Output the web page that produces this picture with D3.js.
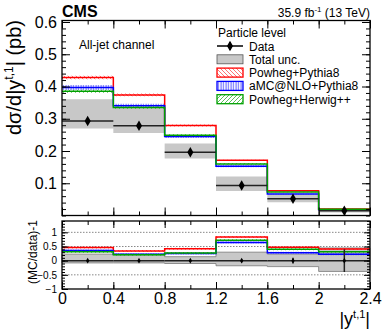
<!DOCTYPE html>
<html>
<head>
<meta charset="utf-8">
<script src="https://cdn.jsdelivr.net/npm/d3@7"></script>
<style>
  body { margin: 0; background: #fff; }
  svg { display: block; font-family: "Liberation Sans", Arial, sans-serif; }
</style>
</head>
<body>
<svg id="chart" width="390" height="331"></svg>
<script>
// ---------- data ----------
const binEdges = [0, 0.4, 0.8, 1.2, 1.6, 2.0, 2.4];
const dataVals = [0.293, 0.278, 0.196, 0.093, 0.052, 0.0145];
const statUnc = [0.03, 0.03, 0.04, 0.06, 0.1, 0.4];      // relative
const totUncUp = [0.23, 0.21, 0.14, 0.30, 0.23, 0.45];    // relative
const totUncDown = [0.08, 0.08, 0.10, 0.18, 0.21, 0.38];  // relative
const powhegPythia = [0.428, 0.374, 0.279, 0.171, 0.0765, 0.0205];
const amcPythia = [0.397, 0.340, 0.245, 0.153, 0.0665, 0.0178];
const powhegHerwig = [0.385, 0.335, 0.249, 0.160, 0.073, 0.019];
const mcUnc = [0.012, 0.02, 0.012];                      // relative band half-width
const xTicks = [0, 0.4, 0.8, 1.2, 1.6, 2, 2.4];
const yTicks = [0.1, 0.2, 0.3, 0.4, 0.5, 0.6];
const ratioTicks = [-1, -0.5, 0, 0.5, 1];
const ratioGrid = [-0.5, 0.5, 1];

const svg = d3.select('#chart');
d3.selection.prototype.attrs = function (o) {
  for (const k in o) this.attr(k, o[k]);
  return this;
};

// ---------- layout ----------
const L = 62, R = 370;
const mainTop = 22, mainBot = 215.5;
const ratTop = 221, ratBot = 289;

const x = d3.scaleLinear().domain([0, 2.4]).range([L, R]);
const y = d3.scaleLinear().domain([0, 0.6]).range([mainBot, mainTop]);
const yr = d3.scaleLinear().domain([-1, 1.4]).range([ratBot, ratTop]);

const colors = ['#ff0000', '#0000ff', '#00a000'];
const mcSets = [powhegPythia, amcPythia, powhegHerwig];
const mcNames = ['Powheg+Pythia8', 'aMC@NLO+Pythia8', 'Powheg+Herwig++'];

/****************** hatch patterns ******************/
const defs = svg.append('defs');
function hatch(id, color, path, w) {
  const p = defs.append('pattern').attrs({
    id: id, patternUnits: 'userSpaceOnUse', width: w, height: w,
  });
  p.append('path').attrs({ d: path, stroke: color, 'stroke-width': 0.8, fill: 'none' });
}
hatch('h0', '#ff5050', 'M0,0 L4,4 M-1,3 L1,5 M3,-1 L5,1', 4);
hatch('h1', '#3030ff', 'M1,0 L1,3', 2.5);
hatch('h2', '#30b030', 'M0,4 L4,0 M-1,1 L1,-1 M3,5 L5,3', 4);

// step path helpers
const stepPts = vals => vals.map((v, i) => [binEdges[i], v])
  .concat([[binEdges[vals.length], vals[vals.length - 1]]]);
const stepLine = ys => d3.line().curve(d3.curveStepAfter)
  .x(d => x(d[0])).y(d => ys(d[1]));
const stepArea = ys => d3.area().curve(d3.curveStepAfter)
  .x(d => x(d[0])).y0(d => ys(d[1])).y1(d => ys(d[2]));
const bandPts = (lo, hi) => lo.map((v, i) => [binEdges[i], v, hi[i]])
  .concat([[binEdges[lo.length], lo[lo.length - 1], hi[hi.length - 1]]]);

/****************** main panel ******************/
const mainG = svg.append('g');

// total uncertainty band
mainG.append('path')
  .attr('d', stepArea(y)(bandPts(
    dataVals.map((v, i) => v * (1 - totUncDown[i])),
    dataVals.map((v, i) => v * (1 + totUncUp[i])))))
  .attrs({ fill: '#c8c8c8', stroke: 'none' });

// MC predictions
mcSets.forEach((vals, k) => {
  mainG.append('path')
    .attr('d', stepArea(y)(bandPts(
      vals.map(v => v * (1 - mcUnc[k])), vals.map(v => v * (1 + mcUnc[k])))))
    .attrs({ fill: `url(#h${k})`, stroke: 'none' });
  mainG.append('path')
    .attr('d', stepLine(y)(stepPts(vals)))
    .attrs({ fill: 'none', stroke: colors[k], 'stroke-width': 1.5 });
});

// data
dataVals.forEach((v, i) => {
  const cx = (binEdges[i] + binEdges[i + 1]) / 2;
  mainG.append('line').attrs({
    x1: x(binEdges[i]), x2: x(binEdges[i + 1]), y1: y(v), y2: y(v),
    stroke: '#222', 'stroke-width': 1.5,
  });
  mainG.append('line').attrs({
    x1: x(cx), x2: x(cx), y1: y(v * (1 - statUnc[i])), y2: y(v * (1 + statUnc[i])),
    stroke: '#222', 'stroke-width': 1.5,
  });
  mainG.append('path')
    .attr('d', d3.symbol(d3.symbolDiamond, 32)())
    .attrs({ transform: `translate(${x(cx)},${y(v)})`, fill: '#000' });
});

// frame
svg.append('rect').attrs({
  x: L, y: mainTop - 1.5, width: R - L, height: mainBot - mainTop + 1.5,
  fill: 'none', stroke: '#000', 'stroke-width': 1.3,
});

// axes helper
function axis(gen, tx, ty, vals, size, fmt, fs) {
  const g = svg.append('g')
    .attr('transform', `translate(${tx},${ty})`)
    .call(gen.tickValues(vals).tickSize(size).tickPadding(fs ? 5 : 0)
      .tickFormat(fmt || ''));
  g.select('.domain').remove();
  g.selectAll('line').attrs({ stroke: '#000', 'stroke-width': 1 });
  g.selectAll('text').attrs({
    'font-size': fs || 10, 'font-family': '"Liberation Sans", Arial, sans-serif', fill: '#000',
  });
  return g;
}
const minorY = d3.range(0, 31).map(d => d * 0.02);
const minorX = d3.range(0, 13).map(d => d * 0.2);
const minus = d => String(d).replace('-', '\u2212');

axis(d3.axisLeft(y), L, 0, yTicks, -8, d3.format('.1f'), 16);
axis(d3.axisLeft(y), L, 0, minorY, -4);
axis(d3.axisRight(y), R, 0, yTicks, -8);
axis(d3.axisRight(y), R, 0, minorY, -4);
axis(d3.axisBottom(x), 0, mainBot, xTicks, -8);
axis(d3.axisBottom(x), 0, mainBot, minorX, -4);
axis(d3.axisTop(x), 0, mainTop - 1.5, xTicks, -8);
axis(d3.axisTop(x), 0, mainTop - 1.5, minorX, -4);

/****************** ratio panel ******************/
const ratG = svg.append('g');

ratioGrid.forEach(t => {
  ratG.append('line').attrs({
    x1: L, x2: R, y1: yr(t), y2: yr(t),
    stroke: '#888', 'stroke-width': 1, 'stroke-dasharray': '1.5,1.5',
  });
});

ratG.append('path')
  .attr('d', stepArea(yr)(bandPts(totUncDown.map(v => -v), totUncUp)))
  .attrs({ fill: '#c8c8c8', stroke: '#777', 'stroke-width': 0.8 });

mcSets.forEach((vals, k) => {
  const r = vals.map((v, i) => v / dataVals[i] - 1);
  ratG.append('path')
    .attr('d', stepArea(yr)(bandPts(
      r.map(v => v - 0.035), r.map(v => v + 0.035))))
    .attrs({ fill: `url(#h${k})`, stroke: 'none' });
  ratG.append('path')
    .attr('d', stepLine(yr)(stepPts(r)))
    .attrs({ fill: 'none', stroke: colors[k], 'stroke-width': 1.5 });
});

dataVals.forEach((v, i) => {
  const cx = (binEdges[i] + binEdges[i + 1]) / 2;
  ratG.append('line').attrs({
    x1: x(binEdges[i]), x2: x(binEdges[i + 1]), y1: yr(0), y2: yr(0),
    stroke: '#222', 'stroke-width': 1.5,
  });
  ratG.append('line').attrs({
    x1: x(cx), x2: x(cx), y1: yr(-statUnc[i]), y2: yr(statUnc[i]),
    stroke: '#222', 'stroke-width': 1.5,
  });
  ratG.append('path')
    .attr('d', d3.symbol(d3.symbolDiamond, 10)())
    .attrs({ transform: `translate(${x(cx)},${yr(0)})`, fill: '#000' });
});

svg.append('rect').attrs({
  x: L, y: ratTop, width: R - L, height: ratBot - ratTop,
  fill: 'none', stroke: '#000', 'stroke-width': 1.3,
});

const minorR = d3.range(-10, 15).map(d => d * 0.1);
axis(d3.axisLeft(yr), L, 0, ratioTicks, -6, minus, 10);
axis(d3.axisLeft(yr), L, 0, minorR, -3);
axis(d3.axisRight(yr), R, 0, ratioTicks, -6);
axis(d3.axisRight(yr), R, 0, minorR, -3);
axis(d3.axisBottom(x), 0, ratBot, xTicks, -7, d => d, 16).selectAll('text').attr('dy', '0.62em');
axis(d3.axisBottom(x), 0, ratBot, minorX, -4);
axis(d3.axisTop(x), 0, ratTop, xTicks, -7);
axis(d3.axisTop(x), 0, ratTop, minorX, -4);

/****************** texts ******************/
svg.append('text').text('CMS').attrs({
  x: 62, y: 17, 'font-size': '16px', 'font-weight': 'bold',
});

const lumi = svg.append('text').attrs({
  x: 370, y: 17, 'text-anchor': 'end', 'font-size': '12px',
});
lumi.append('tspan').text('35.9 fb');
lumi.append('tspan').text('-1').attrs({ 'font-size': '8px', dy: -5 });
lumi.append('tspan').text(' (13 TeV)').attrs({ dy: 5 });

svg.append('text').text('All-jet channel').attrs({
  x: 79, y: 49, 'font-size': '12px',
});

// y axis titles
const yt = svg.append('text').attrs({
  transform: 'translate(21,20) rotate(-90)', 'text-anchor': 'end', 'font-size': '20px',
});
yt.append('tspan').text('d\u03c3/d|y');
yt.append('tspan').text('t,1').attrs({ 'font-size': '12px', dy: -8 });
yt.append('tspan').text('| (pb)').attrs({ dy: 8 });

svg.append('text').text('(MC/data)-1').attrs({
  transform: 'translate(37,252) rotate(-90)', 'text-anchor': 'middle', 'font-size': '12px',
});

// x axis title
const xt = svg.append('text').attrs({
  x: 370, y: 325, 'text-anchor': 'end', 'font-size': '18px',
});
xt.append('tspan').text('|y');
xt.append('tspan').text('t,1').attrs({ 'font-size': '11px', dy: -7 });
xt.append('tspan').text('|').attrs({ dy: 7 });

/****************** legend ******************/
const legX = 217, legW = 26, legTx = 249;
svg.append('text').text('Particle level').attrs({
  x: 218, y: 37, 'font-size': '12px',
});
const legRows = [46, 59.3, 72.6, 85.9, 99.2];

svg.append('line').attrs({
  x1: legX, x2: legX + legW, y1: legRows[0], y2: legRows[0], stroke: '#000', 'stroke-width': 1.5,
});
svg.append('line').attrs({
  x1: legX + legW / 2, x2: legX + legW / 2, y1: legRows[0] - 4, y2: legRows[0] + 4,
  stroke: '#000', 'stroke-width': 1.5,
});
svg.append('path')
  .attr('d', d3.symbol(d3.symbolDiamond, 32)())
  .attrs({ transform: `translate(${legX + legW / 2},${legRows[0]})`, fill: '#000' });
svg.append('text').text('Data').attrs({
  x: legTx, y: legRows[0] + 4.5, 'font-size': '12px',
});

svg.append('rect').attrs({
  x: legX, y: legRows[1] - 4.5, width: legW, height: 9,
  fill: '#c8c8c8', stroke: '#555', 'stroke-width': 0.8,
});
svg.append('text').text('Total unc.').attrs({
  x: legTx, y: legRows[1] + 4.5, 'font-size': '12px',
});

mcNames.forEach((name, k) => {
  const ry = legRows[k + 2];
  svg.append('rect').attrs({
    x: legX, y: ry - 4.5, width: legW, height: 9,
    fill: `url(#h${k})`, stroke: colors[k], 'stroke-width': 1.3,
  });
  svg.append('text').text(name).attrs({
    x: legTx, y: ry + 4.5, 'font-size': '12px',
  });
});
</script>
</body>
</html>
